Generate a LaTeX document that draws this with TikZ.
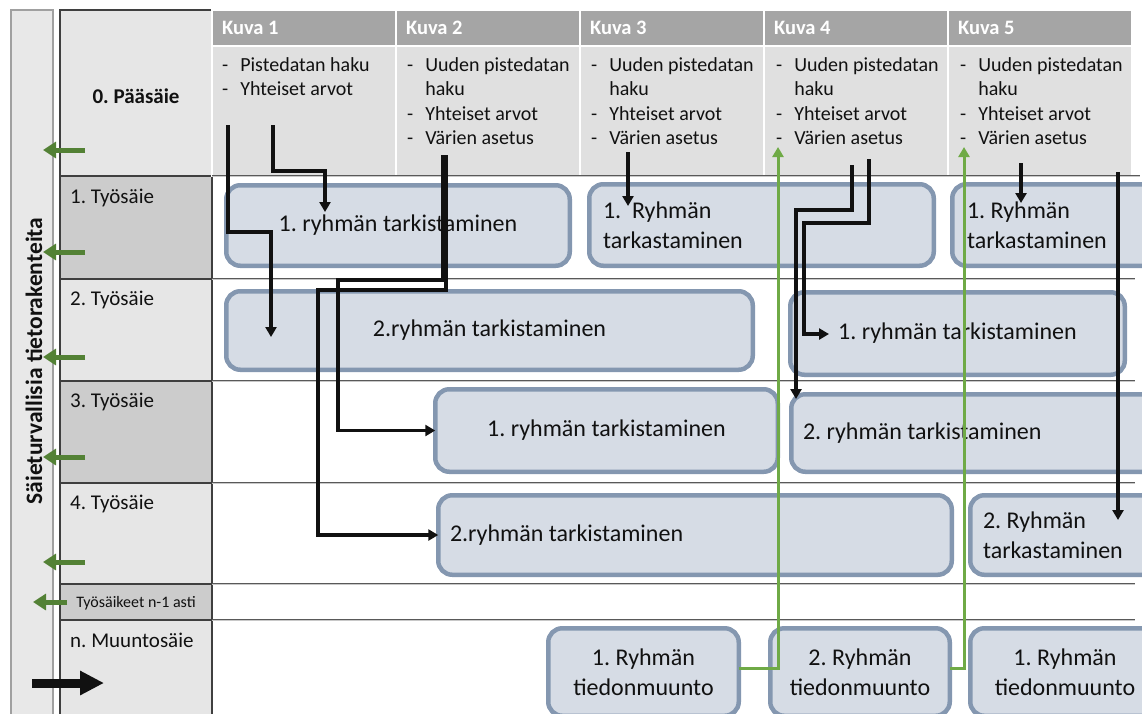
\documentclass[tikz,border=0pt]{standalone}
\usepackage{fontspec}
\setmainfont{Carlito}
\usetikzlibrary{arrows.meta}
\frenchspacing

\definecolor{hdrgray}{HTML}{A5A5A5}
\definecolor{cellgray}{HTML}{E0E0E0}
\definecolor{lightcell}{HTML}{E6E6E6}
\definecolor{darkcell}{HTML}{CCCCCC}
\definecolor{gridline}{HTML}{3F3F3F}
\definecolor{sidegray}{HTML}{E8E8E8}
\definecolor{sideedge}{HTML}{A0A0A0}
\definecolor{boxfill}{HTML}{D6DCE5}
\definecolor{boxedge}{HTML}{8497B0}
\definecolor{syncgreen}{HTML}{538135}
\definecolor{linkgreen}{HTML}{6FAA46}
\definecolor{ink}{HTML}{111111}
\definecolor{rulegray}{HTML}{595959}
\definecolor{ruleinner}{HTML}{C8C8C8}

\newcommand\txtBox{\fontsize{24}{29.5}\selectfont}
\newcommand\txtBullet{\fontsize{20}{24.5}\selectfont}
\newcommand\txtHead{\fontsize{20.5}{24}\selectfont\bfseries}
\newcommand\txtLabel{\fontsize{21}{25}\selectfont}
\newcommand\txtSmall{\fontsize{16}{19}\selectfont}
\newcommand\txtTitle{\fontsize{23.5}{28}\selectfont\bfseries}

\tikzset{
  grp/.style={draw=boxedge, fill=boxfill, line width=4.5pt, rounded corners=14pt,
    font=\txtBox, text=ink, inner sep=0pt, outer sep=0pt},
  grpL/.style={grp, align=flush left},
  grpC/.style={grp, align=center},
  hdrcell/.style={fill=hdrgray, draw=white, line width=1.5pt, anchor=north west,
    minimum width=184pt, minimum height=36pt, text width=164pt, inner xsep=10pt,
    inner ysep=0pt, align=flush left, font=\txtHead, text=white, outer sep=0pt},
  topcell/.style={fill=cellgray, draw=white, line width=1.5pt, anchor=north west,
    minimum width=184pt, minimum height=130pt, inner sep=0pt, outer sep=0pt},
  bullets/.style={anchor=north west, inner sep=0pt, font=\txtBullet, text=ink},
  rowcell/.style={draw=gridline, line width=1.2pt, anchor=north west,
    minimum width=152pt, inner sep=0pt, outer sep=0pt},
  rowlbl/.style={anchor=base west, inner sep=0pt, font=\txtLabel, text=ink},
  rowrule/.style={draw=rulegray, line width=0.8pt, double=ruleinner, double distance=0.9pt},
  syncarrow/.style={draw=syncgreen, line width=5pt, -{Triangle[width=16pt,length=13pt]}},
  flow/.style={draw=ink, line width=3.5pt, -{Triangle[width=11pt,length=10pt]}},
  link/.style={draw=linkgreen, line width=3pt, -{Triangle[width=11pt,length=10pt]}},
}

\begin{document}
\begin{tikzpicture}[x=1pt,y=-1pt]
\useasboundingbox (0,0) rectangle (1142,713);
\fill[white] (0,0) rectangle (1142,713);

% side column with the shared data structures
\node[draw=sideedge, fill=sidegray, line width=1.2pt, anchor=north west,
  minimum width=42pt, minimum height=720pt, inner sep=0pt, outer sep=0pt] (side) at (11,10) {};
\node[rotate=90, font=\txtTitle, text=ink] (title) at (34,361) {Säieturvallisia tietorakenteita};

% thread rows
\node[rowcell, fill=lightcell, minimum height=166pt] (c0) at (60,10) {};
\node[rowcell, fill=darkcell, minimum height=103pt] (c1) at (60,176) {};
\node[rowcell, fill=lightcell, minimum height=102pt] (c2) at (60,279) {};
\node[rowcell, fill=darkcell, minimum height=102pt] (c3) at (60,381) {};
\node[rowcell, fill=lightcell, minimum height=101pt] (c4) at (60,483) {};
\node[rowcell, fill=darkcell, minimum height=36pt] (c5) at (60,584) {};
\node[rowcell, fill=lightcell, minimum height=110pt] (c6) at (60,620) {};

\node[font=\txtLabel\bfseries, text=ink] (l0) at (136,96) {0. Pääsäie};
\node[rowlbl] (l1) at (70,203) {1. Työsäie};
\node[rowlbl] (l2) at (70,305) {2. Työsäie};
\node[rowlbl] (l3) at (70,407) {3. Työsäie};
\node[rowlbl] (l4) at (70,509) {4. Työsäie};
\node[font=\txtSmall, text=ink] (l5) at (136,603) {Työsäikeet n-1 asti};
\node[rowlbl] (l6) at (70,647) {n. Muuntosäie};

% frame columns of the main thread
\foreach \i/\x in {1/212,2/396,3/580,4/764,5/948} {
  \node[hdrcell] (h\i) at (\x,10) {Kuva \i};
  \node[topcell] (t\i) at (\x,46) {};
}
\node[bullets] (b1) at (222,54) {\begin{tabular}{@{}l@{\hspace{12pt}}l@{}}-&Pistedatan haku\\-&Yhteiset arvot\end{tabular}};
\foreach \i/\x in {2/407,3/591,4/776,5/960} {
  \node[bullets] (b\i) at (\x,54) {\begin{tabular}{@{}l@{\hspace{12pt}}l@{}}-&Uuden pistedatan\\&haku\\-&Yhteiset arvot\\-&Värien asetus\end{tabular}};
}

% row separators
\draw[rowrule] (c1.north east) -- (1140,176);
\draw[rowrule] (c2.north east) -- (1135,279);
\draw[rowrule] (c3.north east) -- (1135,381);
\draw[rowrule] (c4.north east) -- (1135,483);
\draw[rowrule] (c5.north east) -- (1135,584);
\draw[rowrule] (c6.north east) -- (1135,620);

% work items
\node[grpC, minimum width=343.5pt, minimum height=80.5pt] (g1) at (398,225.5) {1. ryhmän tarkistaminen};
\node[grpL, minimum width=344.5pt, minimum height=81.5pt, text width=317pt] (g2) at (761.5,225) {1.~~Ryhmän\\tarkastaminen};
\node[grpL, minimum width=345.5pt, minimum height=81.5pt, text width=316pt] (g3) at (1125,225) {1. Ryhmän\\tarkastaminen};
\node[grpC, minimum width=526.5pt, minimum height=78.5pt] (g4) at (489.5,330.5) {2.ryhmän tarkistaminen};
\node[grpC, minimum width=334.5pt, minimum height=82.5pt] (g5) at (957.5,333.5) {1. ryhmän tarkistaminen};
\node[grpC, minimum width=342.5pt, minimum height=82.5pt] (g6) at (606.5,430.5) {1. ryhmän tarkistaminen};
\node[grpL, minimum width=506.5pt, minimum height=77.5pt, text width=483pt] (g7) at (1044.5,433) {2. ryhmän tarkistaminen};
\node[grpL, minimum width=513.5pt, minimum height=79.5pt, text width=490pt] (g8) at (695,535) {2.ryhmän tarkistaminen};
\node[grpL, minimum width=327.5pt, minimum height=79.5pt, text width=302pt] (g9) at (1134,535) {2. Ryhmän\\tarkastaminen};
\node[grpC, minimum width=190.5pt, minimum height=87.5pt] (g10) at (643.5,672) {1. Ryhmän\\tiedonmuunto};
\node[grpC, minimum width=179.5pt, minimum height=87.5pt] (g11) at (860,672) {2. Ryhmän\\tiedonmuunto};
\node[grpC, minimum width=189.5pt, minimum height=87.5pt] (g12) at (1065,672) {1. Ryhmän\\tiedonmuunto};

% hand-over from the main thread to the worker threads
\coordinate (a0) at (228,125); \coordinate (a1) at (271,232); \coordinate (a2) at (271,337);
\draw[flow] (a0) |- (a1) -- (a2);
\coordinate (k0) at (273,125); \coordinate (k1) at (325,171); \coordinate (k2) at (325,212);
\draw[flow] (k0) |- (k1) -- (k2);
\coordinate (m0) at (443,155); \coordinate (m1) at (338,280);
\draw[flow] (m0) |- (m1) |- (g6.west);
\coordinate (n0) at (446,155); \coordinate (n1) at (318,290);
\draw[flow] (n0) |- (n1) |- (g8.west);
\coordinate (p0) at (628,152); \coordinate (p1) at (628,206);
\draw[flow] (p0) -- (p1);
\coordinate (q0) at (852,165); \coordinate (q1) at (796,210); \coordinate (q2) at (796,399);
\draw[flow] (q0) |- (q1) -- (q2);
\coordinate (s0) at (869,159); \coordinate (s1) at (804,223); \coordinate (s2) at (829,334);
\draw[flow] (s0) |- (s1) |- (s2);
\coordinate (u0) at (1021,163); \coordinate (u1) at (1021,203);
\draw[flow] (u0) -- (u1);
\coordinate (v0) at (1118,172); \coordinate (v1) at (1118,520);
\draw[flow] (v0) -- (v1);

% converted data returned to the main thread
\coordinate (w1) at (778,668); \coordinate (w1t) at (778,147);
\draw[link] (g10.east |- w1) -- (w1) -- (w1t);
\coordinate (w2) at (964,668); \coordinate (w2t) at (964,147);
\draw[link] (g11.east |- w2) -- (w2) -- (w2t);

% access to the shared structures
\foreach \y [count=\k] in {150,252,357,457,562} {
  \coordinate (sa\k) at (85,\y); \coordinate (sb\k) at (43,\y);
  \draw[syncarrow] (sa\k) -- (sb\k);
}
\coordinate (sa6) at (67,602); \coordinate (sb6) at (33,602);
\draw[syncarrow] (sa6) -- (sb6);

\coordinate (ta) at (32,683); \coordinate (tb) at (104,683);
\draw[draw=ink, line width=9pt, -{Triangle[width=23pt,length=24pt]}] (ta) -- (tb);
\end{tikzpicture}
\end{document}
